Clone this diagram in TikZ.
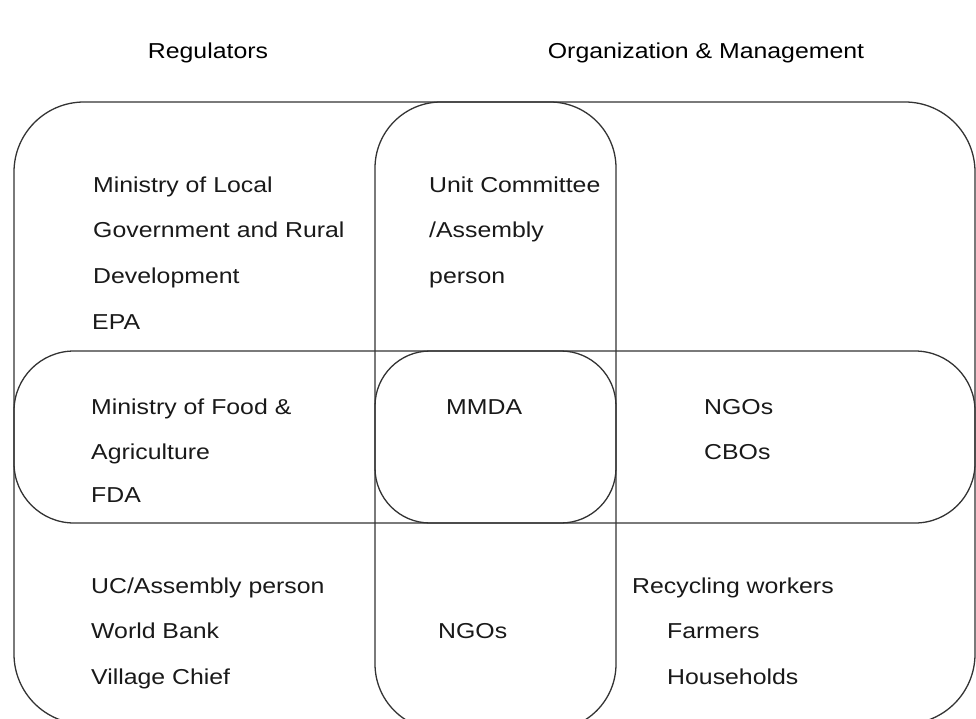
\documentclass[tikz,border=0pt]{standalone}
\usepackage{fontspec}
\setmainfont{Liberation Sans}[FakeStretch=1.15]
\begin{document}
\begin{tikzpicture}[x=1pt,y=-1pt,
  frame/.style={draw=black!80,line width=1.3pt},
  lbl/.style={anchor=base west,inner sep=0pt,text=black!90,font=\fontsize{21.6}{26}\selectfont},
  title/.style={anchor=base,inner sep=0pt,font=\fontsize{21.6}{26}\selectfont}]
\useasboundingbox (0,0) rectangle (976,718);
\begin{scope}
\clip (0,0) rectangle (976,718);
% outer field and the two crossing bands
\draw[frame,rounded corners=70] (14,102) rectangle (975,724);
\draw[frame,rounded corners=66] (375,102) rectangle (616,730);
\draw[frame,rounded corners=60] (14,351) rectangle (975,523);
\draw[frame,rounded corners=55] (375,351) rectangle (616,523);
\end{scope}
% headings
\node[title] (reg) at (208,58) {Regulators};
\node[title] (org) at (706,58) {Organization \& Management};
% top row
\node[lbl] (t1) at (93,192) {Ministry of Local};
\node[lbl] (t2) at (93,237) {Government and Rural};
\node[lbl] (t3) at (93,283) {Development};
\node[lbl] (t4) at (92,329) {EPA};
\node[lbl] (u1) at (429,192) {Unit Committee};
\node[lbl] (u2) at (429,237) {/Assembly};
\node[lbl] (u3) at (429,283) {person};
% middle row
\node[lbl] (m1) at (91,414) {Ministry of Food \&};
\node[lbl] (m2) at (91,459) {Agriculture};
\node[lbl] (m3) at (91,502) {FDA};
\node[lbl] (mm) at (446,414) {MMDA};
\node[lbl] (n1) at (704,414) {NGOs};
\node[lbl] (n2) at (704,459) {CBOs};
% bottom row
\node[lbl] (b1) at (91,593) {UC/Assembly person};
\node[lbl] (b2) at (91,638) {World Bank};
\node[lbl] (b3) at (91,684) {Village Chief};
\node[lbl] (bn) at (438,638) {NGOs};
\node[lbl] (r1) at (632,593) {Recycling workers};
\node[lbl] (r2) at (667,638) {Farmers};
\node[lbl] (r3) at (667,684) {Households};
\end{tikzpicture}
\end{document}
